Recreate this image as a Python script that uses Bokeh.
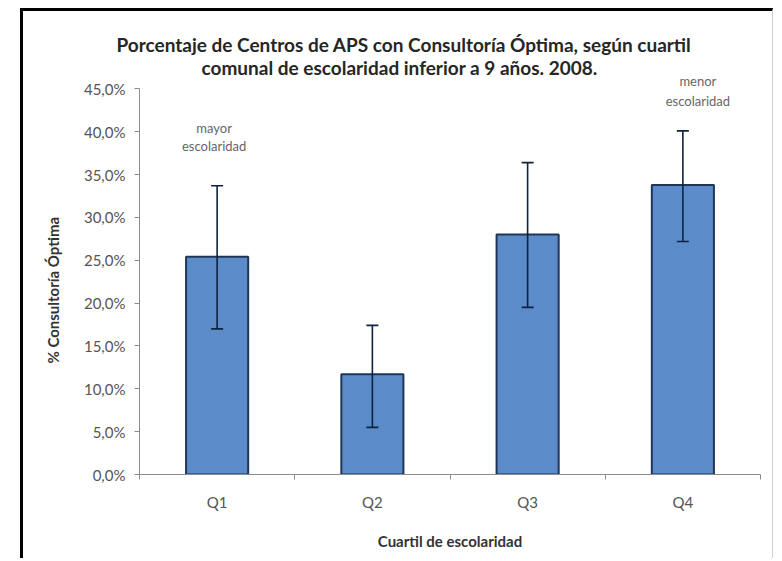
from bokeh.plotting import figure
from bokeh.models import (ColumnDataSource, Whisker, TeeHead, Label, FixedTicker,
                          CustomJSTickFormatter, Range1d, Title)
from bokeh.embed import file_html
from bokeh.resources import INLINE

# ---- data ----
categories = ["Q1", "Q2", "Q3", "Q4"]
pct_optima = [25.4, 11.7, 28.0, 33.8]
ci_lower = [17.0, 5.5, 19.5, 27.2]
ci_upper = [33.7, 17.4, 36.4, 40.1]
y_ticks = [0, 5, 10, 15, 20, 25, 30, 35, 40, 45]
note_cats = ["Q1", "Q4"]
note_line1 = ["mayor", "menor"]
note_line2 = ["escolaridad", "escolaridad"]
title_line1 = "Porcentaje de Centros de APS con Consultoría Óptima, según cuartil"
title_line2 = "comunal de escolaridad inferior a 9 años. 2008."
y_title = "% Consultoría Óptima"
x_title = "Cuartil de escolaridad"

FONT = "Lato"
xs = [i + 1 for i in range(len(categories))]
src = ColumnDataSource(dict(x=xs, top=pct_optima, lower=ci_lower, upper=ci_upper))

p = figure(width=753, height=550, output_backend="svg", toolbar_location=None,
           x_range=Range1d(0.5, len(categories) + 0.5), y_range=Range1d(0, 46.8),
           min_border_left=115, min_border_right=16, min_border_top=62,
           min_border_bottom=87)
p.outline_line_color = None
p.xgrid.visible = False
p.ygrid.visible = False
p.background_fill_color = "white"
p.border_fill_color = "white"
p.margin = (8, 0, 0, 20)
p.styles = {"border-left": "3px solid #000000", "border-top": "3px solid #000000",
            "border-right": "1px solid #d0d0d0"}

p.vbar(x="x", top="top", bottom=0, width=0.4, source=src,
       fill_color="#5B8BC8", line_color="#1F3659", line_width=2)

ecol = "#0E2240"
w = Whisker(base="x", upper="upper", lower="lower", source=src, level="overlay",
            line_color=ecol, line_width=1.6,
            upper_head=TeeHead(size=12, line_color=ecol, line_width=1.6),
            lower_head=TeeHead(size=12, line_color=ecol, line_width=1.6))
p.add_layout(w)

axis_col = "#8C8C8C"
lab_col = "#555555"

# x axis: labels at category centres, ticks at the boundaries
xa = p.xaxis[0]
xa.ticker = FixedTicker(ticks=xs, minor_ticks=[x - 0.5 for x in xs] + [xs[-1] + 0.5])
xa.formatter = CustomJSTickFormatter(args=dict(cats=categories),
                                     code="return cats[Math.round(tick) - 1];")
xa.major_tick_line_color = None
xa.minor_tick_line_color = axis_col
xa.minor_tick_in = 0
xa.minor_tick_out = 5
xa.axis_line_color = axis_col
xa.major_label_text_font = FONT
xa.major_label_text_font_size = "15px"
xa.major_label_text_color = lab_col
xa.major_label_standoff = 12
xa.axis_label = x_title
xa.axis_label_text_font = FONT
xa.axis_label_text_font_style = "bold"
xa.axis_label_text_font_size = "15px"
xa.axis_label_text_color = "#333333"
xa.axis_label_standoff = 18

ya = p.yaxis[0]
ya.bounds = (0, 45)
ya.ticker = FixedTicker(ticks=y_ticks)
ya.formatter = CustomJSTickFormatter(code="return tick.toFixed(1).replace('.', ',') + '%';")
ya.major_tick_in = 0
ya.major_tick_out = 5
ya.major_tick_line_color = axis_col
ya.minor_tick_line_color = None
ya.axis_line_color = axis_col
ya.major_label_text_font = FONT
ya.major_label_text_font_size = "15px"
ya.major_label_text_color = lab_col
ya.major_label_standoff = 9

# y title as a side title, placed along the axis from the bottom
p.add_layout(Title(text=y_title, align="left", offset=111, standoff=37,
                   text_font=FONT, text_font_style="bold", text_font_size="15px",
                   text_color="#333333"), "left")

# title: two lines, added nearest-first
for txt, off, so in [(title_line2, 62, -10), (title_line1, -23, 5)]:
    p.add_layout(Title(text=txt, align="left", offset=off, standoff=so,
                       text_font=FONT, text_font_style="bold",
                       text_font_size="19px", text_color="#262626"), "above")

# notes above Q1 and Q4
note_y1 = {"Q1": 40.4, "Q4": 45.9}
note_y2 = {"Q1": 38.3, "Q4": 43.6}
note_dx = {"Q1": -3, "Q4": 15}
for c, l1, l2 in zip(note_cats, note_line1, note_line2):
    xv = xs[categories.index(c)]
    for txt, yy in [(l1, note_y1[c]), (l2, note_y2[c])]:
        p.add_layout(Label(x=xv, y=yy, x_offset=note_dx[c], text=txt,
                           text_align="center", text_baseline="middle",
                           text_font=FONT, text_font_size="13px",
                           text_color="#666666"))

open("out.html", "w").write(file_html(p, INLINE))
